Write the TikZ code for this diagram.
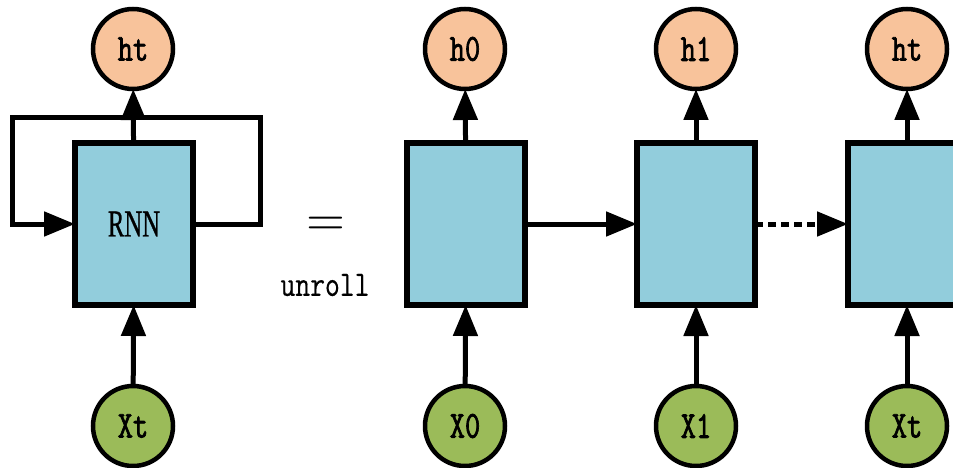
\documentclass[tikz,border=0pt]{standalone}
\usepackage{fontspec}
\setmainfont{Liberation Serif}
\newfontfamily\labfont[FakeBold=2.2]{Latin Modern Mono}
\newfontfamily\unrollfont[FakeBold=0.5]{Latin Modern Mono}
\newfontfamily\rnnfont[FakeBold=1]{Liberation Serif}
\usetikzlibrary{arrows.meta}
\definecolor{hcol}{HTML}{F8C39B}
\definecolor{xcol}{HTML}{9BBB59}
\definecolor{bcol}{HTML}{92CDDC}
\begin{document}
\begin{tikzpicture}[x=1pt,y=-1pt,
  every node/.style={inner sep=0pt, outer sep=0pt},
  conn/.style={line width=5pt, -{Triangle[length=31pt,width=24pt]}},
  hnode/.style={circle, draw, line width=4.5pt, fill=hcol, minimum size=80pt},
  xnode/.style={circle, draw, line width=4.5pt, fill=xcol, minimum size=80pt},
  cell/.style={rectangle, draw, line width=5.5pt, fill=bcol, minimum width=118pt, minimum height=162pt}]
\useasboundingbox (0,0) rectangle (953,468);
\newcommand{\ml}[1]{\scalebox{0.78}[1]{\labfont\fontsize{38}{38}\selectfont #1}}
% left folded RNN
\node[hnode] (ht0) at (133,49) {\ml{ht}};
\node[cell] (rnn) at (134,224) {\scalebox{0.65}[1]{\rnnfont\fontsize{38}{38}\selectfont RNN}};
\node[xnode] (xt0) at (133,426) {\ml{Xt}};
\draw[conn] (xt0) -- (rnn);
\draw[conn] (rnn) -- (ht0);
\coordinate (c1) at (260,224);
\coordinate (c2) at (260,118);
\coordinate (c3) at (12,118);
\coordinate (c4) at (12,224);
\draw[conn] (rnn.east) -- (c1) -- (c2) -- (c3) -- (c4) -- (rnn.west);
% equals and unroll
\node (eq) at (326,226) {\scalebox{5}{$=$}};
\node (unroll) at (325,285) {\scalebox{0.8}[1]{\unrollfont\fontsize{36}{36}\selectfont unroll}};
% unrolled
\node[hnode] (h0) at (465,49) {\ml{h0}};
\node[cell] (b0) at (466,224) {};
\node[xnode] (x0) at (465,426) {\ml{X0}};
\node[hnode] (h1) at (696,49) {\ml{h1}};
\node[cell] (b1) at (696,224) {};
\node[xnode] (x1) at (696,426) {\ml{X1}};
\node[hnode] (ht) at (907,49) {\ml{ht}};
\node[cell] (bt) at (907,224) {};
\node[xnode] (xt) at (907,426) {\ml{Xt}};
\foreach \b/\h/\x in {b0/h0/x0, b1/h1/x1, bt/ht/xt}{
  \draw[conn] (\x) -- (\b);
  \draw[conn] (\b) -- (\h);
}
\draw[conn] (b0) -- (b1);
\draw[conn, dash pattern=on 8pt off 5pt] (b1) -- (bt);
\end{tikzpicture}
\end{document}
